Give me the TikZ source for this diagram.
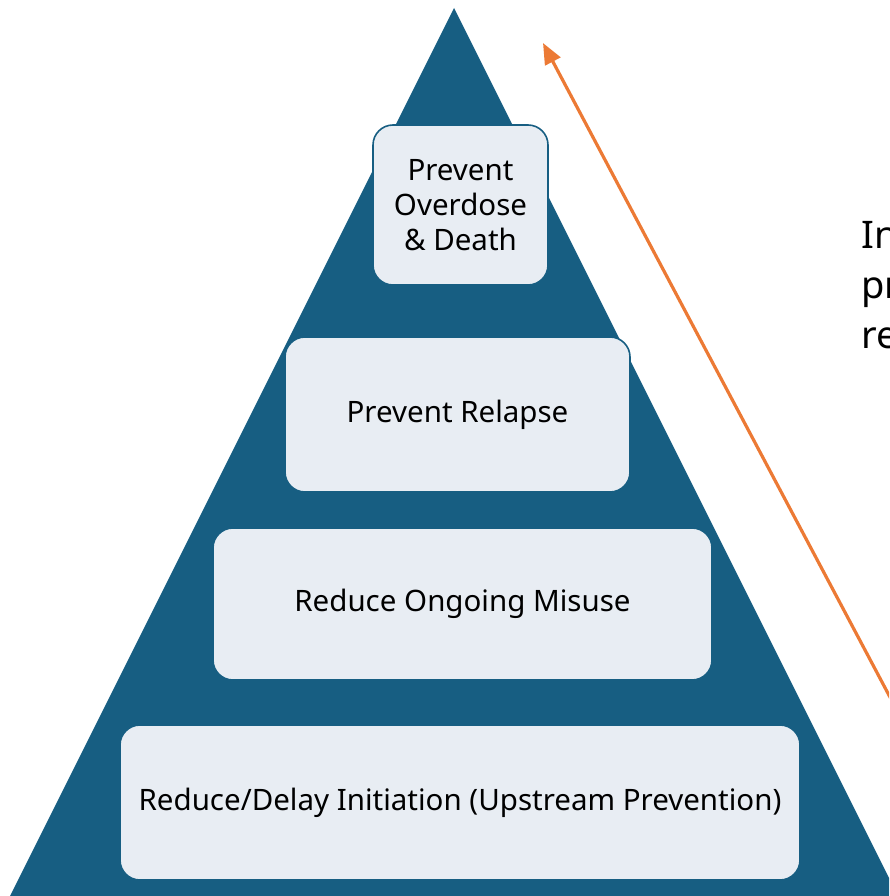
\documentclass[tikz,border=0pt]{standalone}
\usepackage{fontspec}
\setmainfont{Noto Sans}
\usetikzlibrary{arrows.meta}
\definecolor{pyramidteal}{HTML}{175E82}
\definecolor{boxfill}{HTML}{E8EDF3}
\definecolor{arroworange}{HTML}{EC7A35}
\tikzset{
  levelbox/.style={draw=pyramidteal,line width=1.6pt,fill=boxfill,rounded corners=20pt,
    align=center,inner sep=0pt,font=\fontsize{29.5}{35}\selectfont},
}
\begin{document}
\begin{tikzpicture}[x=1pt,y=-1pt]
  \useasboundingbox (0,0) rectangle (889,896);
  \clip (0,0) rectangle (889,896);
  % pyramid
  \coordinate (apex) at (454,8);
  \coordinate (baseleft) at (10,896);
  \coordinate (baseright) at (898,896);
  \fill[pyramidteal] (apex) -- (baseleft) -- (baseright) -- cycle;
  % levels
  \node (overdose) at (460.5,205) [levelbox,minimum width=175pt,minimum height=160pt] {Prevent\\Overdose\\\& Death};
  \node (relapse) at (457.5,414.5) [levelbox,minimum width=345pt,minimum height=155pt] {Prevent Relapse};
  \node (misuse) at (462.5,604) [levelbox,minimum width=499pt,minimum height=152pt] {Reduce Ongoing Misuse};
  \node (initiation) at (460,802.5) [levelbox,minimum width=680pt,minimum height=155pt] {Reduce/Delay Initiation (Upstream Prevention)};
  % arrow and side text
  \coordinate (arrowtail) at (900,716);
  \coordinate (arrowtip) at (543,43);
  \draw[arroworange,line width=3.2pt,-{Triangle[length=21pt,width=17pt]}] (arrowtail) -- (arrowtip);
  \node (sidetext) at (861,285) [anchor=west,align=left,inner sep=0pt,font=\fontsize{38}{50}\selectfont] {In\\pr\\re};
\end{tikzpicture}
\end{document}
